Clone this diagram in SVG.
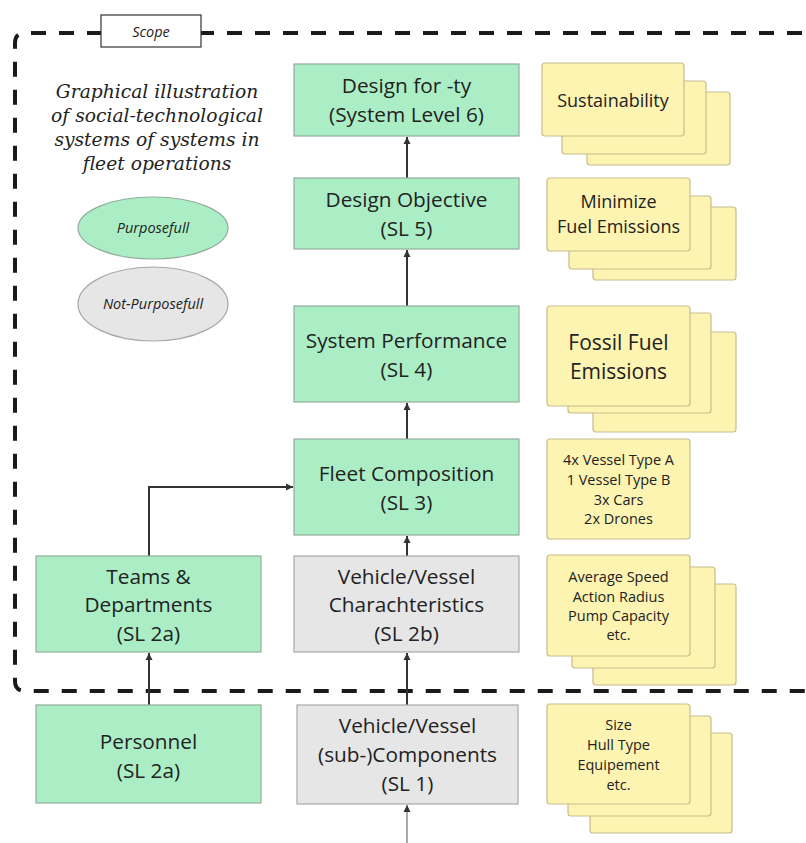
<svg xmlns="http://www.w3.org/2000/svg" width="806" height="843" viewBox="0 0 806 843">
<style>
.bg{fill:#ffffff}
.scope{fill:none;stroke:#1a1a1a;stroke-width:4;stroke-dasharray:15 13}
.lbl{fill:#ffffff;stroke:#333333;stroke-width:1.2}
.g{fill:#abeec6;stroke:#93ad9c;stroke-width:1.2}
.n{fill:#e6e6e6;stroke:#a8a8a8;stroke-width:1.2}
.c{fill:#fdf4b2;stroke:#c6bd8c;stroke-width:1.2}
.t{font-family:"Open Sans","Noto Sans","Liberation Sans",sans-serif;fill:#222222;text-anchor:middle}
.bx{font-size:20.8px}
.it{font-style:italic}
.title{font-family:"DejaVu Serif","Liberation Serif",serif;font-style:italic;font-size:18.7px;fill:#222222;text-anchor:middle}
.ln{fill:none;stroke:#333333;stroke-width:2}
.lg{fill:none;stroke:#aaaaaa;stroke-width:2}
</style>
<defs>
<marker id="ah" markerUnits="userSpaceOnUse" markerWidth="8" markerHeight="8" refX="7" refY="4" orient="auto">
<path d="M0,0.5 L7,4 L0,7.5 z" fill="#333333"/>
</marker>
</defs>
<rect class="bg" x="0" y="0" width="806" height="843"/>

<g id="scope">
<path class="scope" d="M830,33 H25 Q15,33 15,43 V681 Q15,691 25,691 H830"/>
<rect class="lbl" x="101" y="15" width="100" height="32"/>
<text class="t it" x="151" y="37" font-size="14.5">Scope</text>
</g>

<g id="title">
<text class="title" x="157" y="98">Graphical illustration</text>
<text class="title" x="157" y="122">of social-technological</text>
<text class="title" x="157" y="146">systems of systems in</text>
<text class="title" x="157" y="170">fleet operations</text>
</g>

<g id="legend-purposefull">
<ellipse class="g" cx="153" cy="228" rx="75" ry="31"/>
<text class="t it" x="153" y="233" font-size="14.5">Purposefull</text>
</g>
<g id="legend-not-purposefull">
<ellipse class="n" cx="153" cy="304" rx="75" ry="37"/>
<text class="t it" x="153" y="309" font-size="14.5">Not-Purposefull</text>
</g>

<g id="connectors">
<line class="ln" x1="407" y1="178" x2="407" y2="137" marker-end="url(#ah)"/>
<line class="ln" x1="407" y1="306" x2="407" y2="250" marker-end="url(#ah)"/>
<line class="ln" x1="407" y1="439" x2="407" y2="403" marker-end="url(#ah)"/>
<line class="ln" x1="407" y1="556" x2="407" y2="536" marker-end="url(#ah)"/>
<polyline class="ln" points="149,556 149,487 293,487" marker-end="url(#ah)"/>
<line class="ln" x1="149" y1="705" x2="149" y2="653" marker-end="url(#ah)"/>
<line class="ln" x1="407" y1="705" x2="407" y2="653" marker-end="url(#ah)"/>
<line class="lg" x1="407" y1="843" x2="407" y2="805" marker-end="url(#ah)"/>
</g>

<g id="design-for-ty">
<rect class="g" x="294" y="64" width="225" height="72"/>
<text class="t bx" x="406.5" y="93">Design for -ty</text>
<text class="t bx" x="406.5" y="122">(System Level 6)</text>
</g>
<g id="design-objective">
<rect class="g" x="294" y="178" width="225" height="71"/>
<text class="t bx" x="406.5" y="207">Design Objective</text>
<text class="t bx" x="406.5" y="236">(SL 5)</text>
</g>
<g id="system-performance">
<rect class="g" x="294" y="306" width="225" height="96"/>
<text class="t bx" x="406.5" y="348">System Performance</text>
<text class="t bx" x="406.5" y="377">(SL 4)</text>
</g>
<g id="fleet-composition">
<rect class="g" x="294" y="439" width="225" height="96"/>
<text class="t bx" x="406.5" y="481">Fleet Composition</text>
<text class="t bx" x="406.5" y="510">(SL 3)</text>
</g>
<g id="teams-departments">
<rect class="g" x="36" y="556" width="225" height="96"/>
<text class="t bx" x="148.5" y="584">Teams &amp;</text>
<text class="t bx" x="148.5" y="612">Departments</text>
<text class="t bx" x="148.5" y="641">(SL 2a)</text>
</g>
<g id="vehicle-characteristics">
<rect class="n" x="294" y="556" width="225" height="96"/>
<text class="t bx" x="406.5" y="584">Vehicle/Vessel</text>
<text class="t bx" x="406.5" y="612">Charachteristics</text>
<text class="t bx" x="406.5" y="641">(SL 2b)</text>
</g>
<g id="personnel">
<rect class="g" x="36" y="705" width="225" height="98"/>
<text class="t bx" x="148.5" y="749">Personnel</text>
<text class="t bx" x="148.5" y="778">(SL 2a)</text>
</g>
<g id="sub-components">
<rect class="n" x="297" y="705" width="221" height="99"/>
<text class="t bx" x="407.5" y="733">Vehicle/Vessel</text>
<text class="t bx" x="407.5" y="762">(sub-)Components</text>
<text class="t bx" x="407.5" y="791">(SL 1)</text>
</g>

<g id="card-sustainability">
<rect class="c" x="587" y="92" width="143" height="73" rx="3"/>
<rect class="c" x="562" y="81" width="144" height="73" rx="3"/>
<rect class="c" x="542" y="63" width="142" height="73" rx="3"/>
<text class="t" x="613" y="107" font-size="18">Sustainability</text>
</g>
<g id="card-minimize">
<rect class="c" x="593" y="207" width="143" height="73" rx="3"/>
<rect class="c" x="569" y="196" width="142" height="73" rx="3"/>
<rect class="c" x="547" y="178" width="143" height="73" rx="3"/>
<text class="t" x="618.5" y="208" font-size="18">Minimize</text>
<text class="t" x="618.5" y="233" font-size="18">Fuel Emissions</text>
</g>
<g id="card-fossil">
<rect class="c" x="593" y="332" width="143" height="100" rx="3"/>
<rect class="c" x="568" y="313" width="143" height="100" rx="3"/>
<rect class="c" x="547" y="306" width="143" height="100" rx="3"/>
<text class="t" x="618.5" y="350" font-size="21">Fossil Fuel</text>
<text class="t" x="618.5" y="379" font-size="21">Emissions</text>
</g>
<g id="card-fleet">
<rect class="c" x="547" y="439" width="143" height="100" rx="3"/>
<text class="t" x="618.5" y="465" font-size="14.5">4x Vessel Type A</text>
<text class="t" x="618.5" y="485" font-size="14.5">1 Vessel Type B</text>
<text class="t" x="618.5" y="505" font-size="14.5">3x Cars</text>
<text class="t" x="618.5" y="524" font-size="14.5">2x Drones</text>
</g>
<g id="card-characteristics">
<rect class="c" x="593" y="584" width="143" height="101" rx="3"/>
<rect class="c" x="572" y="567" width="143" height="101" rx="3"/>
<rect class="c" x="547" y="555" width="143" height="101" rx="3"/>
<text class="t" x="618.5" y="582" font-size="14.5">Average Speed</text>
<text class="t" x="618.5" y="602" font-size="14.5">Action Radius</text>
<text class="t" x="618.5" y="621" font-size="14.5">Pump Capacity</text>
<text class="t" x="618.5" y="640" font-size="14.5">etc.</text>
</g>
<g id="card-components">
<rect class="c" x="590" y="733" width="142" height="100" rx="3"/>
<rect class="c" x="568" y="716" width="143" height="100" rx="3"/>
<rect class="c" x="547" y="704" width="143" height="100" rx="3"/>
<text class="t" x="618.5" y="730" font-size="14.5">Size</text>
<text class="t" x="618.5" y="750" font-size="14.5">Hull Type</text>
<text class="t" x="618.5" y="770" font-size="14.5">Equipement</text>
<text class="t" x="618.5" y="790" font-size="14.5">etc.</text>
</g>
</svg>
